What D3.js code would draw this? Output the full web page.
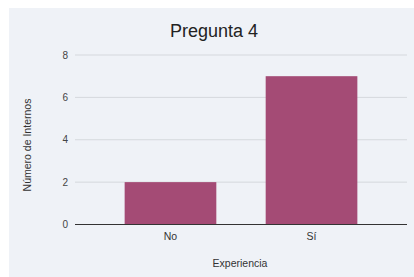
<!DOCTYPE html>
<html><head><meta charset="utf-8">
<script src="https://cdn.jsdelivr.net/npm/d3@7"></script>
<style>html,body{margin:0;padding:0;background:#fff;}svg{display:block;font-family:"Liberation Sans",Arial,sans-serif;}</style>
</head><body>
<script>
const categories = ["No", "Sí"];
const values = [2, 7];
const yTicks = [0, 2, 4, 6, 8];
const title = "Pregunta 4";
const xTitle = "Experiencia";
const yTitle = "Número de Internos";

const W = 414, H = 277;
const svg = d3.select("body").append("svg").attr("width", W).attr("height", H);
svg.append("rect").attr("x", 9).attr("y", 8).attr("width", W - 9).attr("height", H - 8).attr("fill", "#eff2f7");

const x = d3.scaleBand().domain(categories).range([75, 407]).paddingInner(0.35).paddingOuter(0.352);
const y = d3.scaleLinear().domain([0, 8]).range([224.5, 55]);

// gridlines
svg.append("g").selectAll("line").data(yTicks.filter(d => d !== 0)).join("line")
  .attr("x1", 75).attr("x2", 407).attr("y1", d => y(d)).attr("y2", d => y(d))
  .attr("stroke", "#d5d8dd").attr("stroke-width", 1);

// y axis labels
const yAxis = d3.axisLeft(y).tickValues(yTicks).tickSize(0).tickPadding(7).tickFormat(d3.format("d"));
const ya = svg.append("g").attr("transform", "translate(75,0)").call(yAxis);
ya.select(".domain").remove();
ya.selectAll("text").attr("font-size", 10).attr("fill", "#444").attr("font-family", "Liberation Sans, Arial, sans-serif");

// bars
svg.append("g").selectAll("rect").data(values).join("rect")
  .attr("x", (d, i) => x(categories[i])).attr("width", x.bandwidth())
  .attr("y", d => y(d)).attr("height", d => y(0) - y(d))
  .attr("fill", "#a44b75");

// baseline
svg.append("line").attr("x1", 75).attr("x2", 407).attr("y1", y(0)).attr("y2", y(0))
  .attr("stroke", "#333").attr("stroke-width", 1.2);

// x axis labels
const xAxis = d3.axisBottom(x).tickSize(0).tickPadding(8);
const xa = svg.append("g").attr("transform", `translate(0,${y(0)})`).call(xAxis);
xa.select(".domain").remove();
xa.selectAll("text").attr("font-size", 10.5).attr("fill", "#333").attr("font-family", "Liberation Sans, Arial, sans-serif");

// titles
svg.append("text").attr("x", 214).attr("y", 37).attr("text-anchor", "middle")
  .attr("font-size", 18).attr("fill", "#222").text(title);
svg.append("text").attr("x", 240).attr("y", 267).attr("text-anchor", "middle")
  .attr("font-size", 10.5).attr("fill", "#333").text(xTitle);
svg.append("text").attr("transform", "translate(31,145) rotate(-90)").attr("text-anchor", "middle")
  .attr("font-size", 10.5).attr("fill", "#333").text(yTitle);
</script>
</body></html>
